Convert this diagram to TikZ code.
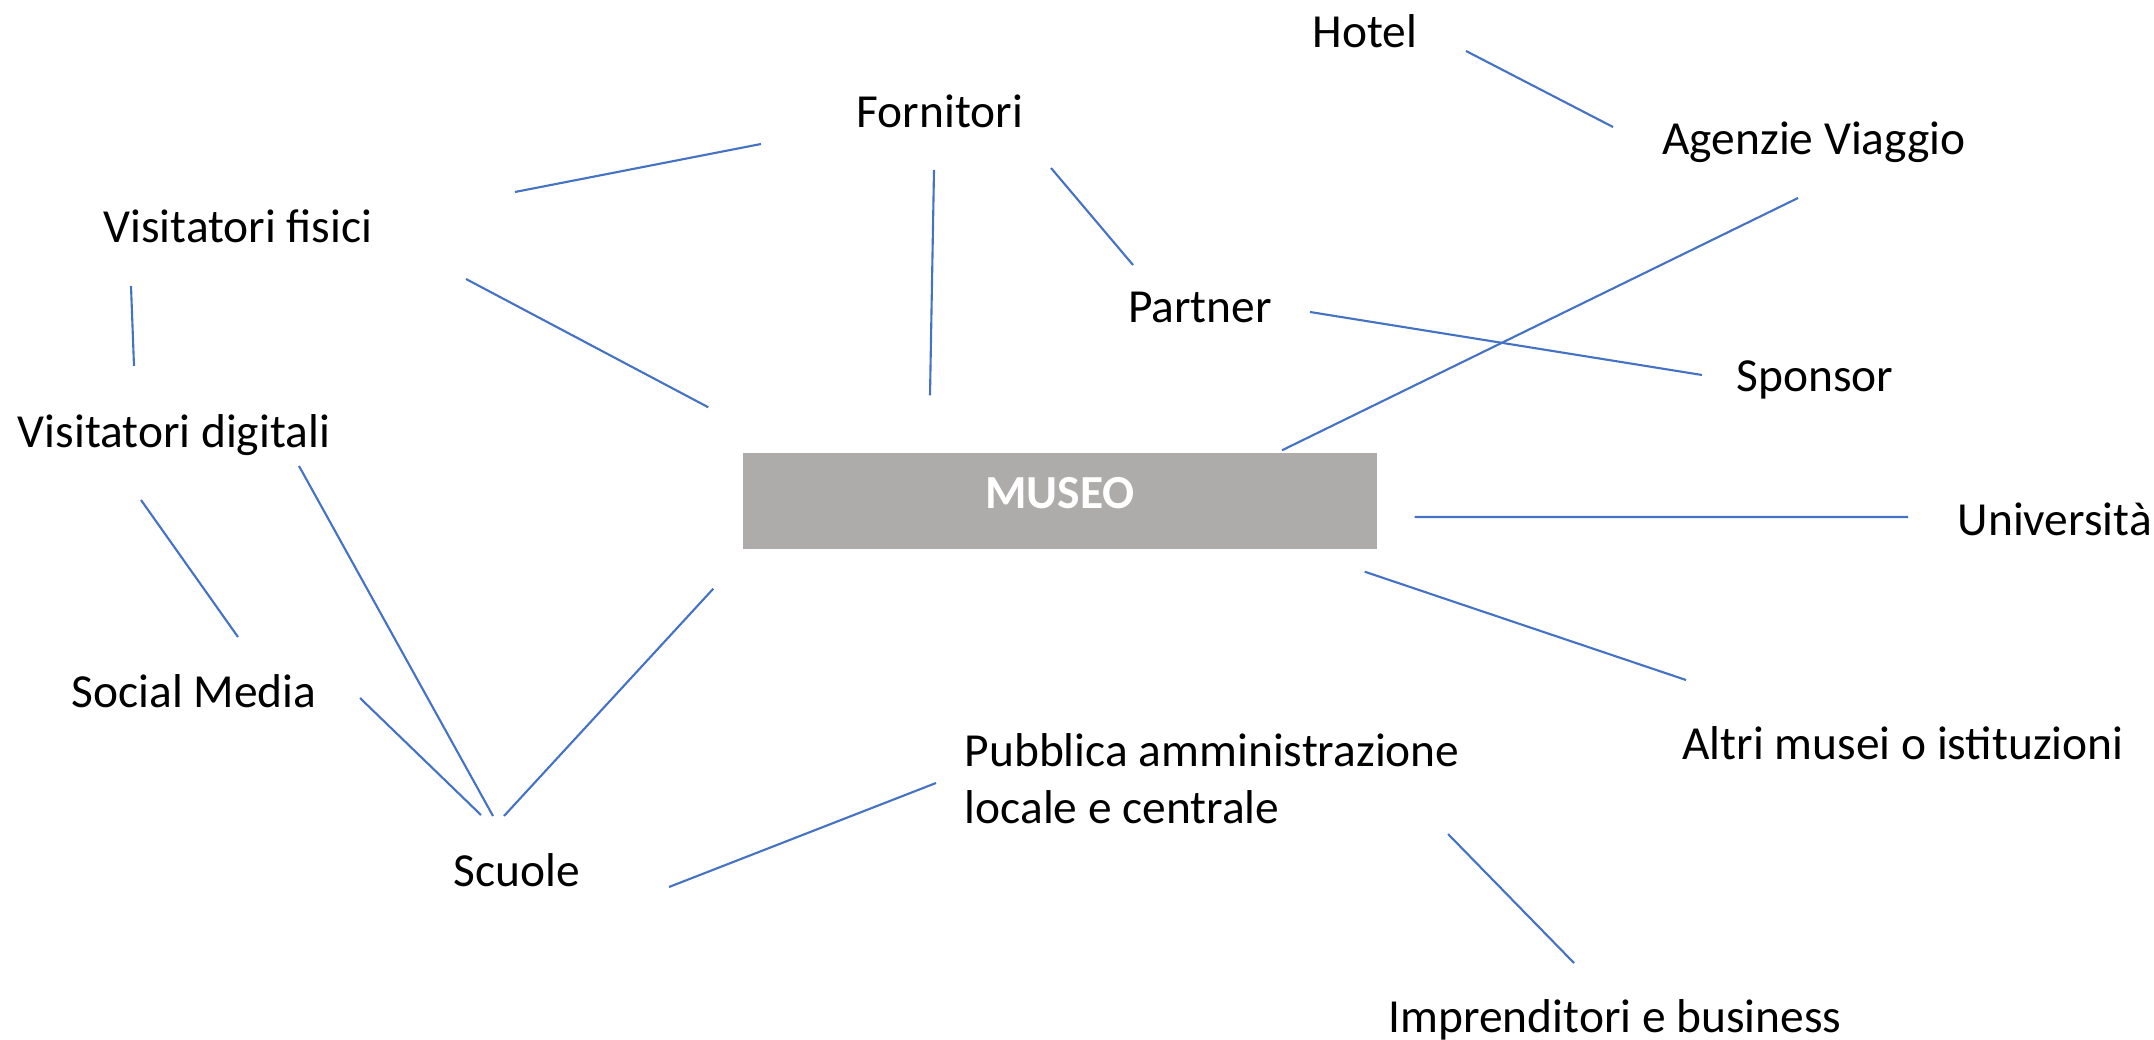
\documentclass[tikz,border=0pt]{standalone}
\usepackage{fontspec}
\setmainfont{Carlito}
\usepackage{tikz}
\definecolor{linkblue}{HTML}{4472C4}
\definecolor{museogray}{HTML}{AEABAB}

\begin{document}
\begin{tikzpicture}[lbl/.style={inner sep=0pt, anchor=base, font=\fontsize{13.5}{16.2}\selectfont},
	museobox/.style={fill=museogray, text=white, inner sep=0pt, minimum width=6.34cm, minimum height=0.96cm,
		text height=8.6pt, text depth=4.6pt, font=\fontsize{13.5}{16.2}\selectfont\bfseries},
	link/.style={draw=linkblue, line width=0.6pt}]
	\useasboundingbox (0,0) rectangle (21.54,-10.40);
	\node[museobox] (museo) at (10.60,-5.01) {MUSEO};
	\node[lbl] (hotel) at (13.65,-0.48) {Hotel};
	\node[lbl] (forn) at (9.40,-1.28) {Fornitori};
	\node[lbl] (agenz) at (18.14,-1.55) {Agenzie Viaggio};
	\node[lbl] (vfis) at (2.38,-2.43) {Visitatori fisici};
	\node[lbl] (partner) at (12.00,-3.23) {Partner};
	\node[lbl] (sponsor) at (18.15,-3.92) {Sponsor};
	\node[lbl] (vdig) at (1.74,-4.48) {Visitatori digitali};
	\node[lbl, anchor=base west] (univ) at (19.57,-5.35) {Università};
	\node[lbl] (social) at (1.94,-7.07) {Social Media};
	\node[lbl] (altri) at (19.03,-7.59) {Altri musei o istituzioni};
	\node[lbl, anchor=west, align=left] (pubbl) at (9.64,-7.79) {Pubblica amministrazione\\locale e centrale};
	\node[lbl] (scuole) at (5.17,-8.86) {Scuole};
	\node[lbl] (impr) at (16.15,-10.32) {Imprenditori e business};
	% links
	\draw[link] ([shift={(2.77,0.51)}]vfis.base) -- ([shift={(-1.79,-0.16)}]forn.base);
	\draw[link] ([shift={(-0.06,-0.42)}]forn.base) -- ([shift={(-1.30,0.57)}]museo.north);
	\draw[link] ([shift={(1.11,-0.40)}]forn.base) -- ([shift={(-0.67,0.58)}]partner.base);
	\draw[link] ([shift={(1.01,-0.03)}]hotel.base) -- ([shift={(-2.01,0.28)}]agenz.base);
	\draw[link] ([shift={(-0.16,-0.43)}]agenz.base) -- ([shift={(2.22,0.02)}]museo.north);
	\draw[link] ([shift={(1.10,0.11)}]partner.base) -- ([shift={(-1.13,0.17)}]sponsor.base);
	\draw[link] ([shift={(2.28,-0.36)}]vfis.base) -- ([shift={(-0.34,0.45)}]museo.north west);
	\draw[link] ([shift={(-1.07,-0.43)}]vfis.base) -- ([shift={(-0.40,0.82)}]vdig.base);
	\draw[link] ([shift={(-0.33,-0.52)}]vdig.base) -- ([shift={(0.44,0.70)}]social.base);
	\draw[link] ([shift={(1.25,-0.18)}]vdig.base) -- ([shift={(-0.24,0.70)}]scuole.base);
	\draw[link] ([shift={(1.66,0.09)}]social.base) -- ([shift={(-0.36,0.71)}]scuole.base);
	\draw[link] ([shift={(-0.13,0.70)}]scuole.base) -- ([shift={(-0.29,-0.39)}]museo.south west);
	\draw[link] ([shift={(0.37,-0.16)}]museo.east) -- ([shift={(-0.49,0.18)}]univ.base west);
	\draw[link] ([shift={(-0.13,-0.22)}]museo.south east) -- ([shift={(-2.17,0.79)}]altri.base);
	\draw[link] ([shift={(1.52,-0.01)}]scuole.base) -- ([shift={(-0.28,-0.04)}]pubbl.west);
	\draw[link] ([shift={(4.84,-0.55)}]pubbl.west) -- ([shift={(-0.41,0.69)}]impr.base);
\end{tikzpicture}
\end{document}
